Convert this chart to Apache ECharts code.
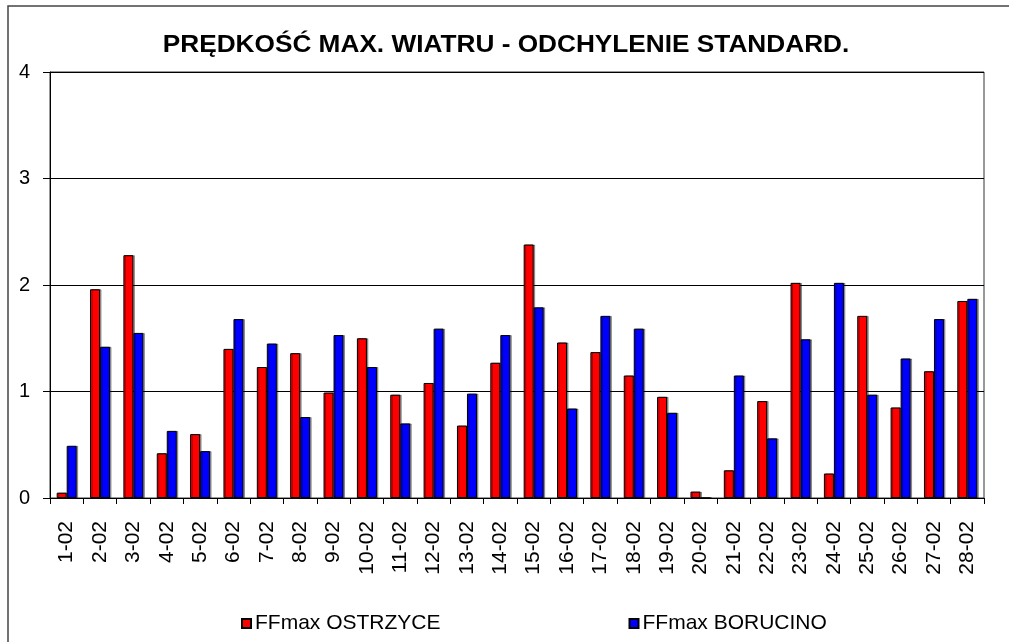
<!DOCTYPE html>
<html>
<head>
<meta charset="utf-8">
<script src="https://cdn.jsdelivr.net/npm/echarts@6/dist/echarts.min.js"></script>
<style>
  html, body { margin: 0; padding: 0; background: #fff; }
  #chart { width: 1009px; height: 642px; }
</style>
</head>
<body>
<div id="chart"></div>
<script>
// Daily categories (February)
const days = ['1-02','2-02','3-02','4-02','5-02','6-02','7-02','8-02','9-02','10-02',
  '11-02','12-02','13-02','14-02','15-02','16-02','17-02','18-02','19-02','20-02',
  '21-02','22-02','23-02','24-02','25-02','26-02','27-02','28-02'];

// Standard deviation of maximum wind speed, station Ostrzyce
const ostrzyce = [0.05, 1.96, 2.28, 0.42, 0.60, 1.40, 1.23, 1.36, 0.99, 1.50,
  0.97, 1.08, 0.68, 1.27, 2.38, 1.46, 1.37, 1.15, 0.95, 0.06,
  0.26, 0.91, 2.02, 0.23, 1.71, 0.85, 1.19, 1.85];

// Standard deviation of maximum wind speed, station Borucino
const borucino = [0.49, 1.42, 1.55, 0.63, 0.44, 1.68, 1.45, 0.76, 1.53, 1.23,
  0.70, 1.59, 0.98, 1.53, 1.79, 0.84, 1.71, 1.59, 0.80, 0,
  1.15, 0.56, 1.49, 2.02, 0.97, 1.31, 1.68, 1.87];

const yTicks = [0, 1, 2, 3, 4];

const FONT = '"Liberation Sans", Arial, sans-serif';

const chart = echarts.init(document.getElementById('chart'), null, { renderer: 'canvas' });

const barStyle = (color) => ({
  color: color,
  borderColor: '#000',
  borderWidth: 1,
  shadowColor: 'rgba(0,0,0,0.35)',
  shadowOffsetX: 1.5,
  shadowOffsetY: 0,
  shadowBlur: 0
});

chart.setOption({
  animation: false,
  backgroundColor: '#fff',
  graphic: [
    {
      type: 'rect',
      shape: { x: 8, y: 6, width: 1010, height: 660 },
      style: { fill: 'none', stroke: '#444', lineWidth: 1.5 },
      silent: true
    },
    {
      type: 'text',
      x: 506,
      y: 34,
      scaleX: 1.14,
      style: {
        text: 'PRĘDKOŚĆ MAX. WIATRU - ODCHYLENIE STANDARD.',
        font: 'bold 23px ' + FONT,
        fill: '#000',
        align: 'center',
        verticalAlign: 'top'
      }
    }
  ],
  grid: {
    left: 50,
    right: 25,
    top: 72,
    bottom: 144,
    show: true,
    borderColor: '#333',
    borderWidth: 1,
    backgroundColor: 'transparent'
  },
  legend: {
    data: ['FFmax OSTRZYCE', 'FFmax BORUCINO'],
    left: 236,
    top: 608,
    itemWidth: 9,
    itemHeight: 9,
    itemGap: 188,
    icon: 'rect',
    textStyle: { fontFamily: FONT, fontSize: 21, color: '#000', padding: [0, 0, 0, -1] }
  },
  xAxis: {
    type: 'category',
    data: days,
    boundaryGap: true,
    axisLine: { lineStyle: { color: '#000', width: 1 } },
    axisTick: { show: true, length: 6, alignWithLabel: false, lineStyle: { color: '#000' } },
    axisLabel: {
      rotate: 90,
      interval: 0,
      margin: 23,
      fontFamily: FONT,
      fontSize: 21,
      color: '#000'
    }
  },
  yAxis: {
    type: 'value',
    min: yTicks[0],
    max: yTicks[yTicks.length - 1],
    interval: 1,
    axisLine: { show: true, lineStyle: { color: '#000', width: 1 } },
    axisTick: { show: true, length: 7, lineStyle: { color: '#000' } },
    axisLabel: { margin: 20, fontFamily: FONT, fontSize: 20, color: '#000' },
    splitLine: { show: true, lineStyle: { color: '#000', width: 1 } }
  },
  series: [
    {
      name: 'FFmax OSTRZYCE',
      type: 'bar',
      data: ostrzyce,
      barWidth: 10,
      barGap: '0%',
      itemStyle: barStyle('#ff0000')
    },
    {
      name: 'FFmax BORUCINO',
      type: 'bar',
      data: borucino,
      barWidth: 10,
      barGap: '0%',
      itemStyle: barStyle('#0000ff')
    }
  ]
});
</script>
</body>
</html>
